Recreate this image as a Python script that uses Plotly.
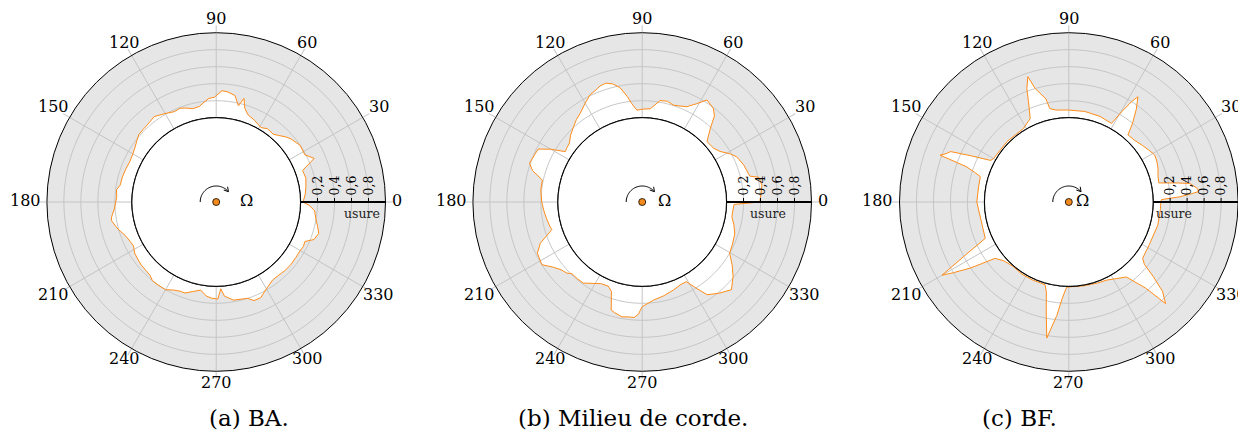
import numpy as np
import plotly.graph_objects as go

# the page body has an 8 px margin: the figure is drawn from (8, 8)
OFF = 8
W, H = 1246 - OFF, 432 - OFF

# --- usure (wear) around the section, angle in degrees ---
theta_ba = [0, 5, 10, 15, 20, 24, 28, 34, 40, 43, 47, 50, 55, 59, 65, 70, 73, 75, 77, 80,
            84, 87, 91, 94, 97, 100, 104, 108, 111, 115, 120, 126, 130, 135, 139, 142, 146,
            150, 155, 160, 165, 170, 173, 177, 180, 184, 188, 190, 193, 196, 200, 205, 208,
            212, 216, 220, 228, 231, 235, 240, 244, 248, 251, 255, 260, 264, 267, 271, 273,
            275, 280, 285, 288, 291, 295, 298, 302, 306, 310, 315, 320, 325, 330, 333, 336,
            339, 343, 347, 350, 355, 358]
usure_ba = [0.03, 0.06, 0.08, 0.10, 0.09, 0.27, 0.19, 0.20, 0.16, 0.13, 0.08, 0.05, 0.06,
            0.03, 0.07, 0.10, 0.16, 0.27, 0.17, 0.28, 0.31, 0.32, 0.24, 0.23, 0.19, 0.15,
            0.14, 0.17, 0.19, 0.18, 0.21, 0.25, 0.23, 0.22, 0.215, 0.19, 0.16, 0.14, 0.13,
            0.14, 0.15, 0.155, 0.19, 0.18, 0.19, 0.21, 0.25, 0.26, 0.23, 0.20, 0.15, 0.12,
            0.11, 0.14, 0.15, 0.16, 0.17, 0.20, 0.20, 0.20, 0.16, 0.14, 0.14, 0.10, 0.06,
            0.12, 0.14, 0.15, 0.03, 0.12, 0.18, 0.19, 0.20, 0.25, 0.25, 0.21, 0.17, 0.14,
            0.14, 0.15, 0.155, 0.15, 0.15, 0.16, 0.15, 0.24, 0.27, 0.23, 0.20, 0.17, 0.10]

theta_mc = [0, 4, 8, 12, 13.5, 20, 25.6, 28.6, 33, 37, 43, 47, 50, 52.7, 57.6, 61, 65, 72,
            76, 80, 83, 85, 90, 93.3, 96, 98, 101, 104, 107, 110, 113, 116, 120, 125, 128.5,
            132, 137, 141, 144, 146.8, 150, 153, 156, 161, 164, 167.6, 173, 180, 185, 190,
            195, 197, 200, 202, 206, 212, 216, 220, 223.4, 225.4, 230, 234, 240, 243, 248,
            251, 254, 256, 260, 263, 266, 268, 270, 276.6, 283, 289.6, 295, 299, 302, 305,
            310, 315.5, 320.7, 325, 329.7, 335, 341, 346, 350.7, 355, 358.5]
usure_mc = [0.39, 0.41, 0.43, 0.41, 0.31, 0.28, 0.24, 0.19, 0.10, 0.06, 0.05, 0.18, 0.33,
            0.39, 0.43, 0.33, 0.245, 0.205, 0.23, 0.22, 0.15, 0.11, 0.10, 0.09, 0.17, 0.26,
            0.38, 0.44, 0.47, 0.46, 0.43, 0.41, 0.35, 0.28, 0.25, 0.21, 0.16, 0.11, 0.10,
            0.09, 0.25, 0.38, 0.39, 0.41, 0.35, 0.21, 0.21, 0.19, 0.17, 0.15, 0.13, 0.12,
            0.22, 0.30, 0.38, 0.40, 0.31, 0.25, 0.227, 0.19, 0.19, 0.187, 0.115, 0.085,
            0.075, 0.12, 0.33, 0.35, 0.38, 0.37, 0.37, 0.33, 0.24, 0.17, 0.14, 0.106, 0.08,
            0.08, 0.20, 0.34, 0.41, 0.48, 0.39, 0.30, 0.20, 0.18, 0.16, 0.12, 0.077, 0.08,
            0.09]

theta_bf = [0, 1.5, 2.7, 3.8, 4.6, 6, 8.7, 10, 11, 12, 16, 20.7, 25, 28.7, 33, 37.6, 43,
            48.6, 51, 54, 56.7, 58, 59.5, 61.5, 70, 80, 90, 98, 101.5, 102.5, 106.5, 108.1,
            110.3, 111.9, 114.8, 121.6, 135.8, 150, 152, 154.8, 156.9, 158.5, 160, 161,
            162.5, 164, 170, 180, 189, 203.5, 207.4, 210, 211.5, 213.9, 217.4, 222, 229,
            237, 245, 254, 256, 258.5, 260.8, 264, 265.9, 267, 268.6, 280, 290, 296, 302,
            307.5, 311.8, 313.6, 316.4, 318.6, 320.5, 322.7, 332, 345.5, 356]
usure_bf = [0.09, 0.10, 0.32, 0.45, 0.54, 0.53, 0.45, 0.30, 0.18, 0.09, 0.10, 0.13, 0.15,
            0.16, 0.13, 0.10, 0.07, 0.06, 0.20, 0.36, 0.49, 0.40, 0.25, 0.06, 0.08, 0.09,
            0.09, 0.10, 0.13, 0.25, 0.40, 0.56, 0.43, 0.28, 0.09, 0.025, 0.025, 0.03, 0.05,
            0.29, 0.52, 0.56, 0.62, 0.28, 0.17, 0.09, 0.085, 0.09, 0.065, 0.08, 0.40, 0.73,
            0.60, 0.40, 0.10, 0.04, 0.01, 0.02, 0.02, 0.02, 0.10, 0.34, 0.63, 0.35, 0.16,
            0.09, 0.01, 0.01, 0.02, 0.03, 0.07, 0.12, 0.37, 0.66, 0.53, 0.33, 0.16, 0.10,
            0.08, 0.09, 0.09]

captions = ["(a) BA.", "(b) Milieu de corde.", "(c) BF."]
angle_ticks = list(range(0, 360, 30))
angle_labels = [str(a) for a in angle_ticks]
radial_ticks = [0.2, 0.4, 0.6, 0.8]
radial_text = ["0,2", "0,4", "0,6", "0,8"]

series = [(theta_ba, usure_ba), (theta_mc, usure_mc), (theta_bf, usure_bf)]
# positions wanted on the page (pixels)
centers_px = [216.2, 642.2, 1068.8]
cy_px = 202
R_px = 169.3

ORANGE = "#ff8c1a"
GRID = "#c4c4c4"
BG = "#e6e6e6"
FONT = "DejaVu Serif"
TICK_SIZE = 16


def px(x):
    return (x - OFF) / W


def py(y):
    return (H - (y - OFF)) / H


fig = go.Figure()
circ = np.linspace(0, 360, 361)

for k, (th, us) in enumerate(series):
    sp = "polar" if k == 0 else f"polar{k + 1}"
    th_c = list(th) + [th[0]]
    us_c = list(us) + [us[0]]
    # white area between rotor and wear line
    fig.add_trace(go.Scatterpolar(r=us_c, theta=th_c, mode="lines", fill="toself",
                                  fillcolor="white", line=dict(width=0), subplot=sp,
                                  showlegend=False, hoverinfo="skip"))
    # grid drawn above the white fill
    for rv in radial_ticks:
        fig.add_trace(go.Scatterpolar(r=[rv] * len(circ), theta=circ, mode="lines",
                                      line=dict(color=GRID, width=1), subplot=sp,
                                      showlegend=False, hoverinfo="skip"))
    for a in angle_ticks[1:]:
        fig.add_trace(go.Scatterpolar(r=[0, 1], theta=[a, a], mode="lines",
                                      line=dict(color=GRID, width=1), subplot=sp,
                                      showlegend=False, hoverinfo="skip"))
    fig.add_trace(go.Scatterpolar(r=us_c, theta=th_c, mode="lines",
                                  line=dict(color=ORANGE, width=1), subplot=sp,
                                  showlegend=False))
    # rotor contour
    fig.add_trace(go.Scatterpolar(r=[0] * len(circ), theta=circ, mode="lines",
                                  line=dict(color="black", width=1.2), subplot=sp,
                                  showlegend=False, hoverinfo="skip"))

    cx = centers_px[k]
    dom_x = [px(cx - R_px), px(cx + R_px)]
    dom_y = [py(cy_px + R_px), py(cy_px - R_px)]
    fig.update_layout({sp: dict(
        domain=dict(x=dom_x, y=dom_y),
        bgcolor=BG,
        hole=0.498,
        angularaxis=dict(rotation=0, direction="counterclockwise", tickmode="array",
                         tickvals=angle_ticks, showticklabels=False,
                         showgrid=False, showline=True, linecolor="black", linewidth=1,
                         ticks="outside", ticklen=7, tickcolor=GRID,
                         layer="above traces"),
        radialaxis=dict(range=[0, 1], angle=0, side="counterclockwise", tickmode="array",
                        tickvals=radial_ticks, ticktext=radial_text, tickangle=-90,
                        showgrid=False, showline=True, linecolor="black", linewidth=2,
                        ticks="outside", ticklen=3, tickcolor="black",
                        tickfont=dict(family=FONT, size=12.5, color="black"),
                        layer="above traces"),
    )})

    # angle labels: nearest edge of each label sits just outside the circle
    for a, lab in zip(angle_ticks, angle_labels):
        ca, sa = np.cos(np.radians(a)), np.sin(np.radians(a))
        hw, hh = len(lab) * 0.636 * TICK_SIZE / 2, 0.73 * TICK_SIZE / 2
        t = min(hw / abs(ca) if abs(ca) > 1e-6 else 1e9, hh / abs(sa) if abs(sa) > 1e-6 else 1e9)
        rr_lab = R_px + 6.5 + t
        lx, ly = cx + rr_lab * ca, cy_px - rr_lab * sa
        fig.add_annotation(x=px(lx), y=py(ly - 1.5), xref="paper", yref="paper", text=lab,
                           showarrow=False, xanchor="center", yanchor="middle",
                           font=dict(family=FONT, size=TICK_SIZE, color="black"))

    # centre: dot, rotation arrow, Omega
    fig.add_shape(type="circle", xref="paper", yref="paper",
                  x0=px(cx - 3.5), x1=px(cx + 3.5), y0=py(cy_px + 3.5), y1=py(cy_px - 3.5),
                  fillcolor="#f28a1e", line=dict(color="black", width=0.8))
    ang = np.radians(np.linspace(180, 42, 40))
    rr = 16
    pts = [(px(cx + rr * np.cos(a)), py(cy_px - rr * np.sin(a))) for a in ang]
    path = "M " + " L ".join(f"{x:.5f},{y:.5f}" for x, y in pts)
    fig.add_shape(type="path", xref="paper", yref="paper", path=path,
                  line=dict(color="black", width=1))
    a_end = np.radians(40)
    tip = np.array([cx + rr * np.cos(a_end), cy_px - rr * np.sin(a_end)])
    d = np.array([np.sin(a_end), np.cos(a_end)])  # clockwise direction on screen
    heads = []
    for s in (-1, 1):
        rot = np.radians(30 * s)
        back = -d
        v = np.array([back[0] * np.cos(rot) - back[1] * np.sin(rot),
                      back[0] * np.sin(rot) + back[1] * np.cos(rot)])
        heads.append(tip + 5 * v)
    hp = (f"M {px(heads[0][0]):.5f},{py(heads[0][1]):.5f} L {px(tip[0]):.5f},{py(tip[1]):.5f} "
          f"L {px(heads[1][0]):.5f},{py(heads[1][1]):.5f}")
    fig.add_shape(type="path", xref="paper", yref="paper", path=hp,
                  line=dict(color="black", width=1))
    fig.add_annotation(x=px(cx + 22), y=py(cy_px - 2), xref="paper", yref="paper",
                       text="Ω", showarrow=False,
                       font=dict(family=FONT, size=16, color="black"))
    fig.add_annotation(x=px(cx + 125.5), y=py(213.5), xref="paper", yref="paper",
                       text="usure", showarrow=False,
                       font=dict(family=FONT, size=12.5, color="#222222"))
    fig.add_annotation(x=px(cx - 9.5), y=0, xref="paper", yref="paper",
                       text=captions[k], showarrow=False, yanchor="bottom", yshift=-1,
                       font=dict(family=FONT, size=23, color="black"))

fig.update_layout(width=W, height=H, margin=dict(l=0, r=0, t=0, b=0),
                  paper_bgcolor="white", plot_bgcolor="white",
                  font=dict(family=FONT, color="black"))

fig.write_html("out.html")
